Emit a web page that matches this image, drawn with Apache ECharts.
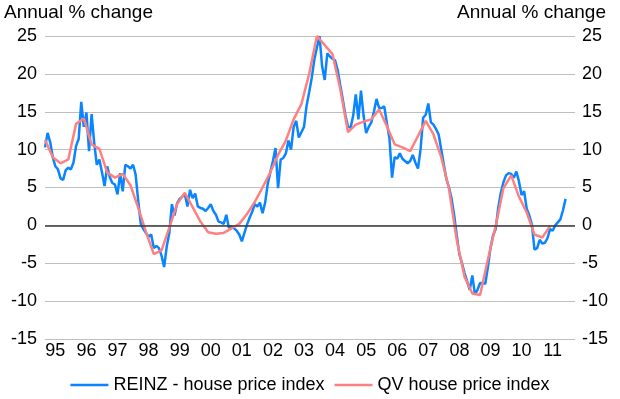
<!DOCTYPE html>
<html>
<head>
<meta charset="utf-8">
<script src="https://cdn.jsdelivr.net/npm/echarts@6/dist/echarts.min.js"></script>
<style>
  html, body { margin: 0; padding: 0; background: #fff; }
  #chart { width: 620px; height: 399px; }
</style>
</head>
<body>
<div id="chart"></div>
<script>
// REINZ house price index, annual % change, monthly from March 1995
const reinzStart = [1995, 3];
const reinzValues = [
  10.3, 12.2, 11.0, 9.0, 7.8, 7.4, 6.2, 6.0, 7.3, 7.6,
  7.4, 8.3, 10.5, 11.4, 16.3, 13.0, 14.9, 9.8, 14.7, 10.9,
  8.0, 8.7, 7.0, 5.2, 7.8, 6.4, 5.6, 5.4, 4.1, 6.9,
  4.5, 8.0, 7.8, 7.5, 8.0, 6.7, 3.2, 0.2, -0.5, -1.0,
  -1.5, -1.2, -3.0, -2.7, -3.0, -4.0, -5.5, -2.8, -1.0, 2.8,
  1.3, 2.9, 3.5, 3.8, 4.1, 2.5, 4.7, 3.6, 4.2, 2.5,
  2.3, 2.2, 1.9, 2.3, 2.8, 1.9, 1.4, 0.5, 0.4, 0.2,
  1.4, -0.3, -0.1, -0.4, -0.7, -1.2, -2.1, -1.0, 0.1, 1.0,
  1.8, 2.8, 2.5, 3.0, 1.6, 3.0, 5.5, 7.0, 8.5, 10.2,
  4.9, 8.7, 8.9, 9.5, 11.2, 10.0, 13.0, 13.8, 11.6, 12.3,
  13.0, 15.8, 17.6, 19.5, 21.9, 23.5, 25.0, 21.0, 19.2, 22.7,
  22.3, 22.0, 21.8, 20.5, 18.5, 16.6, 14.5, 13.0, 12.9, 14.5,
  17.3, 14.0, 17.8, 14.5, 12.2, 13.0, 13.6, 15.0, 16.7, 15.5,
  15.5, 15.7, 13.5, 11.5, 6.3, 9.0, 8.8, 9.5, 8.8, 8.5,
  8.2, 8.5, 9.3, 8.3, 7.5, 10.0, 14.2, 14.6, 16.1, 13.6,
  13.3, 12.7, 12.0, 10.0, 8.0, 6.1, 5.0, 3.5, 1.3, -1.4,
  -3.8, -5.0, -6.3, -7.4, -8.5, -6.6, -9.1, -8.5, -7.6, -7.6,
  -7.7, -5.5, -3.0, -1.3, -0.5, 2.3, 4.3, 5.7, 6.6, 6.9,
  6.8, 6.3, 7.1, 5.8, 4.0, 4.5, 2.2, 1.3, 0.1, -3.2,
  -3.0, -1.9, -2.4, -2.3, -1.7, -0.5, -0.7, 0.0, 0.4, 0.8,
  2.0, 3.5
];

// QV house price index, annual % change, quarterly from March 1995
const qvStart = [1995, 3];
const qvValues = [
  11.3, 9.0, 8.2, 8.7, 13.4, 14.1, 10.7, 10.1, 7.0, 6.3,
  6.8, 5.3, 2.3, -0.9, -3.8, -3.3, -0.3, 2.8, 4.3, 2.4,
  0.5, -0.9, -1.1, -1.0, -0.4, 0.2, 1.5, 3.1, 5.0, 7.0,
  9.3, 11.2, 14.0, 16.0, 20.0, 25.0, 23.8, 22.6, 18.0, 12.3,
  13.3, 13.7, 14.0, 15.3, 13.1, 10.7, 10.3, 9.8, 11.8, 13.8,
  12.0, 9.0, 4.8, -2.0, -6.8, -9.0, -9.2, -4.5, -0.1, 4.9,
  6.6, 3.8, 1.7, -1.2, -1.6, -0.1
];

const yearLabels = [1995, 1996, 1997, 1998, 1999, 2000, 2001, 2002, 2003,
                    2004, 2005, 2006, 2007, 2008, 2009, 2010, 2011];

const seriesNames = ['REINZ - house price index', 'QV house price index'];
const seriesColors = ['#0a84ff', '#ff8080'];
const yTitle = 'Annual % change';

// decimal year for the n-th period after a [year, month] start
function toTime(start, n, stepMonths) {
  const m = (start[1] - 1) + n * stepMonths;
  return start[0] + m / 12;
}
const reinzData = reinzValues.map((v, i) => [toTime(reinzStart, i, 1), v]);
const qvData = qvValues.map((v, i) => [toTime(qvStart, i, 3), v]);

const font = "'Liberation Sans', Arial, sans-serif";
const xMin = toTime(reinzStart, 0, 1);
const titleStyle = { fontFamily: font, fontSize: 19, fontWeight: 'normal', color: '#000' };

const chart = echarts.init(document.getElementById('chart'), null, { renderer: 'canvas' });
chart.setOption({
  animation: false,
  backgroundColor: '#ffffff',
  textStyle: { fontFamily: font, color: '#000' },
  title: [
    { text: yTitle, left: 4, top: 3, padding: 0, textStyle: titleStyle },
    { text: yTitle, right: 14, top: 3, padding: 0, textStyle: titleStyle }
  ],
  grid: { left: 45, right: 45, top: 36, bottom: 60, containLabel: false },
  legend: {
    data: seriesNames,
    left: 'center',
    top: 371,
    icon: 'rect',
    itemWidth: 38,
    itemHeight: 2.5,
    itemGap: 10,
    textStyle: { fontFamily: font, fontSize: 18, color: '#000' }
  },
  xAxis: {
    type: 'value',
    min: xMin,
    max: 2012.22,
    axisLine: { show: false },
    axisTick: { show: false },
    splitLine: { show: false },
    axisLabel: {
      customValues: yearLabels.map(y => y + 0.5),
      formatter: v => String(Math.floor(v)).slice(2),
      fontFamily: font, fontSize: 18, color: '#000', margin: 3
    }
  },
  yAxis: [
    {
      type: 'value', position: 'left', min: -15, max: 25, interval: 5,
      axisLine: { show: false }, axisTick: { show: false },
      splitLine: { show: true, lineStyle: { color: '#bfbfbf', width: 1 } },
      axisLabel: { fontFamily: font, fontSize: 18, color: '#000', margin: 8 }
    },
    {
      type: 'value', position: 'right', min: -15, max: 25, interval: 5,
      axisLine: { show: false }, axisTick: { show: false },
      splitLine: { show: false },
      axisLabel: { fontFamily: font, fontSize: 18, color: '#000', margin: 7 }
    }
  ],
  series: [
    {
      name: 'zero',
      type: 'line',
      data: [],
      z: 1,
      silent: true,
      markLine: {
        silent: true,
        symbol: ['none', 'none'],
        label: { show: false },
        lineStyle: { color: '#3a3a3a', width: 1.5, type: 'solid' },
        data: [{ yAxis: 0 }]
      }
    },
    {
      name: seriesNames[0],
      type: 'line',
      data: reinzData,
      symbol: 'none',
      z: 3,
      lineStyle: { color: seriesColors[0], width: 2.5 },
      itemStyle: { color: seriesColors[0] }
    },
    {
      name: seriesNames[1],
      type: 'line',
      data: qvData,
      symbol: 'none',
      z: 4,
      lineStyle: { color: seriesColors[1], width: 2.5 },
      itemStyle: { color: seriesColors[1] }
    }
  ]
});
</script>
</body>
</html>
